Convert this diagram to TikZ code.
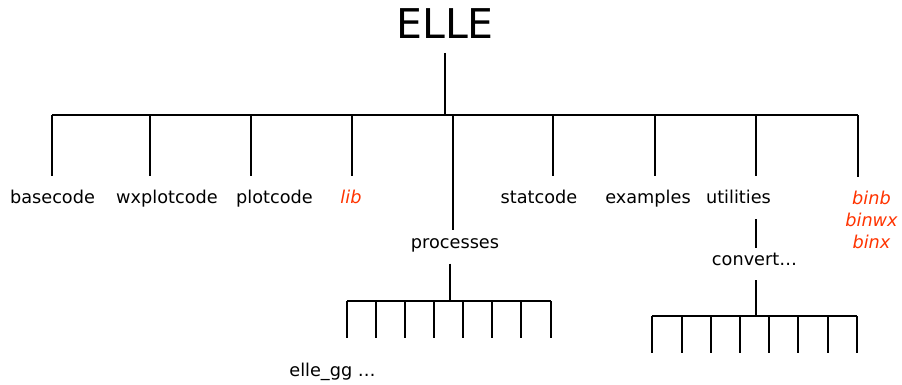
\documentclass[tikz,border=0pt]{standalone}
\usepackage{fontspec}
\setmainfont{DejaVu Sans}
\usepackage{tikz}
\usetikzlibrary{positioning}
\usepackage{xcolor}
\definecolor{binred}{RGB}{255,51,0}

\begin{document}
\begin{tikzpicture}[x=1pt, y=-1pt, line width=1.9pt,
    title/.style={font=\fontsize{41}{49}\selectfont, inner sep=0pt, anchor=base},
    leaf/.style={font=\fontsize{17.7}{22}\selectfont, inner sep=0pt, anchor=base},
    redleaf/.style={leaf, text=binred, font=\fontsize{17.7}{22}\selectfont\itshape}]
        \useasboundingbox (0,0) rectangle (902,384);

        % root
        \node[title] (elle) at (445,38) {ELLE};
        \foreach \i/\x in {1/52, 2/150, 3/251, 4/352, 5/453, 6/553, 7/655, 8/756, 9/858}
            \coordinate (r\i) at (\x,115);
        \draw[shorten <=14pt] (elle.south) -- (elle.south |- r1);
        \draw (r1) -- (r9);

        % first level
        \node[leaf] (basecode) at (52.5,203) {basecode};
        \node[leaf] (wxplotcode) at (167,203) {wxplotcode};
        \node[leaf] (plotcode) at (274.5,203) {plotcode};
        \node[redleaf] (lib) at (351,203) {lib};
        \node[leaf] (processes) at (455,248) {processes};
        \node[leaf] (statcode) at (539,203) {statcode};
        \node[leaf] (examples) at (648,203) {examples};
        \node[leaf] (utilities) at (738.5,203) {utilities};
        \node[redleaf, anchor=north, align=center] (bin) at (871.5,190) {binb\\binwx\\binx};

        \draw[shorten >=13pt] (r1) -- (r1 |- basecode.north);
        \draw[shorten >=13pt] (r2) -- (r2 |- wxplotcode.north);
        \draw[shorten >=13pt] (r3) -- (r3 |- plotcode.north);
        \draw[shorten >=13pt] (r4) -- (r4 |- lib.north);
        \draw[shorten >=7pt] (r5) -- (r5 |- processes.north);
        \draw[shorten >=13pt] (r6) -- (r6 |- statcode.north);
        \draw[shorten >=13pt] (r7) -- (r7 |- examples.north);
        \draw[shorten >=13pt] (r8) -- (r8 |- utilities.north);
        \draw[shorten >=13pt] (r9) -- (r9 |- bin.north);

        % processes subtree
        \coordinate (pr) at (450,301);
        \draw[shorten <=11pt] (pr |- processes.south) -- (pr);
        \draw (347,301) -- (551,301);
        \foreach \x in {347,376,405,434,463,492,521,551}
            \draw (\x,301) -- (\x,338);
        \node[leaf] (ellegg) at (332.5,376) {elle\_gg …};

        % utilities subtree
        \node[leaf] (convert) at (754.5,265) {convert…};
        \draw[shorten <=15pt, shorten >=4pt] (r8 |- utilities.south) -- (r8 |- convert.north);
        \coordinate (cv) at (756,316);
        \draw[shorten <=14pt] (cv |- convert.south) -- (cv);
        \draw (652,316) -- (857,316);
        \foreach \x in {652,682,711,740,769,798,828,857}
            \draw (\x,316) -- (\x,353);
    \end{tikzpicture}
\end{document}
